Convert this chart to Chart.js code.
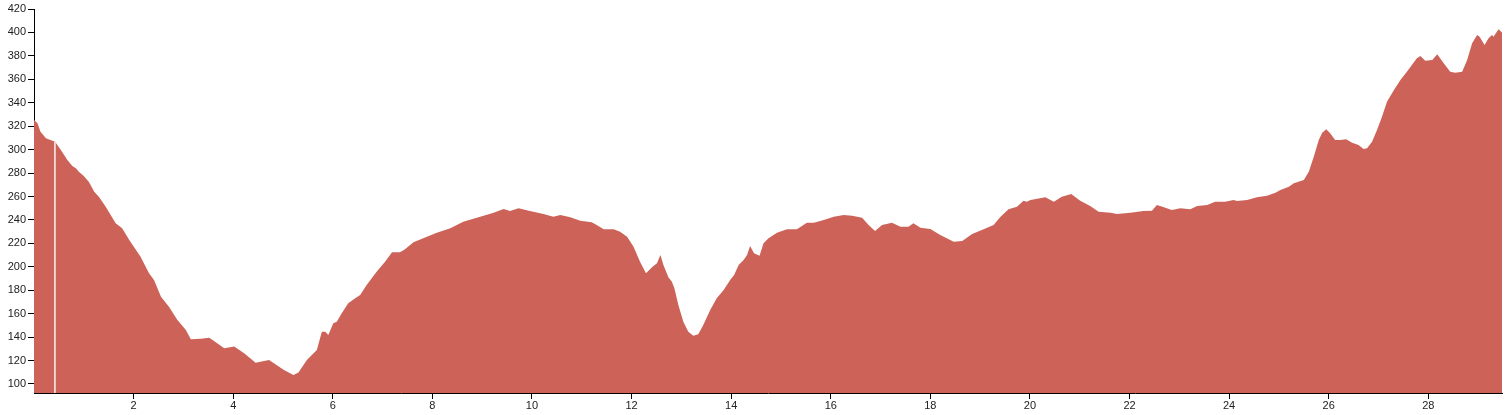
<!DOCTYPE html>
<html>
<head>
<meta charset="utf-8">
<script src="https://cdn.jsdelivr.net/npm/chart.js@4/dist/chart.umd.min.js"></script>
<style>
  html, body { margin: 0; padding: 0; background: #ffffff; }
  #wrap { width: 1505px; height: 415px; }
</style>
</head>
<body>
<div id="wrap"><canvas id="c" width="1505" height="415"></canvas></div>
<script>
// Distance along the route (km)
const distanceKm = [
  0.00, 0.07, 0.13, 0.24, 0.37, 0.42, 0.54, 0.67, 0.77, 0.84, 0.90, 1.00, 1.10, 1.21, 1.31, 1.44,
  1.64, 1.77, 1.91, 2.14, 2.31, 2.41, 2.55, 2.71, 2.88, 3.05, 3.15, 3.35, 3.52, 3.65, 3.82, 4.02,
  4.22, 4.45, 4.72, 5.02, 5.21, 5.31, 5.48, 5.68, 5.78, 5.85, 5.91, 6.01, 6.08, 6.18, 6.31, 6.45,
  6.55, 6.68, 6.88, 7.05, 7.19, 7.35, 7.45, 7.62, 7.89, 8.09, 8.36, 8.62, 8.96, 9.23, 9.43, 9.56,
  9.73, 9.96, 10.23, 10.43, 10.57, 10.77, 10.97, 11.20, 11.30, 11.44, 11.64, 11.77, 11.91, 12.04,
  12.17, 12.29, 12.41, 12.51, 12.58, 12.64, 12.74, 12.81, 12.86, 12.94, 13.04, 13.14, 13.24, 13.34,
  13.44, 13.58, 13.71, 13.85, 13.98, 14.06, 14.15, 14.25, 14.32, 14.38, 14.46, 14.57, 14.65, 14.75,
  14.92, 15.12, 15.32, 15.52, 15.66, 15.86, 16.06, 16.26, 16.43, 16.63, 16.76, 16.89, 17.03, 17.23,
  17.40, 17.56, 17.66, 17.80, 18.00, 18.20, 18.47, 18.64, 18.84, 19.07, 19.27, 19.41, 19.57, 19.74,
  19.87, 19.94, 20.01, 20.31, 20.48, 20.64, 20.83, 21.01, 21.21, 21.38, 21.62, 21.75, 22.02, 22.28,
  22.45, 22.55, 22.69, 22.85, 23.02, 23.22, 23.36, 23.56, 23.72, 23.92, 24.09, 24.16, 24.36, 24.56,
  24.76, 24.93, 25.03, 25.20, 25.30, 25.50, 25.60, 25.70, 25.80, 25.87, 25.95, 26.03, 26.13, 26.23,
  26.35, 26.47, 26.60, 26.70, 26.77, 26.87, 26.97, 27.07, 27.17, 27.31, 27.44, 27.57, 27.67, 27.77,
  27.84, 27.94, 28.08, 28.18, 28.31, 28.44, 28.54, 28.68, 28.78, 28.88, 28.98, 29.03, 29.13, 29.21,
  29.28, 29.31, 29.41, 29.48
];

// Elevation (m)
const elevationM = [
  325.3, 322.5, 315.3, 309.7, 307.6, 307.0, 299.7, 291.2, 286.0, 284.0, 281.2, 277.5, 272.6, 264.1, 259.3, 251.3,
  237.1, 232.9, 223.0, 208.6, 194.5, 188.8, 174.5, 166.0, 154.6, 146.1, 138.1, 138.7, 139.5, 135.6, 130.5, 131.9,
  126.2, 118.2, 120.5, 112.0, 107.7, 109.7, 120.5, 129.0, 144.6, 144.6, 141.8, 151.8, 153.2, 160.3, 168.9, 173.1,
  176.0, 184.5, 195.8, 204.4, 212.4, 212.4, 214.9, 220.9, 225.7, 229.1, 232.9, 238.5, 242.8, 246.2, 249.3, 247.6,
  249.9, 247.6, 245.1, 242.8, 244.2, 242.2, 239.4, 238.0, 235.7, 232.0, 232.0, 230.0, 225.7, 217.2,
  204.4, 194.5, 199.6, 203.0, 210.1, 201.6, 191.1, 187.3, 181.7, 167.4, 153.2, 144.6, 141.2, 142.4,
  150.4, 163.2, 173.1, 180.2, 188.8, 193.0, 201.6, 205.8, 210.1, 217.8, 211.5, 209.5, 220.0, 224.3,
  229.0, 232.0, 232.0, 237.6, 237.6, 239.9, 242.8, 244.2, 243.6, 241.9, 235.7, 230.6, 235.7, 237.6,
  234.2, 234.2, 237.1, 233.4, 232.3, 227.2, 221.4, 222.0, 228.0, 232.0, 235.7, 242.8, 249.1, 251.3,
  256.4, 255.6, 257.0, 259.3, 255.6, 259.8, 262.1, 256.4, 251.9, 247.0, 246.2, 245.1, 246.2, 247.6,
  247.9, 252.8, 250.8, 248.5, 249.9, 249.1, 251.9, 252.8, 255.6, 255.6, 257.0, 256.2, 257.0, 259.3,
  260.7, 263.2, 265.6, 268.4, 271.3, 274.1, 281.2, 294.0, 308.2, 314.4, 317.3, 313.9, 308.2, 308.2,
  308.8, 305.9, 304.0, 300.5, 301.1, 306.8, 316.7, 328.1, 340.9, 350.9, 359.4, 366.5, 372.2, 377.9,
  379.9, 375.9, 376.5, 381.3, 373.7, 366.5, 365.7, 366.5, 376.5, 390.7, 397.8, 396.4, 389.3, 395.0,
  397.8, 396.4, 402.7, 399.9
];

// Axis ticks
const xTicks = [2, 4, 6, 8, 10, 12, 14, 16, 18, 20, 22, 24, 26, 28];
const yTicks = [100, 120, 140, 160, 180, 200, 220, 240, 260, 280, 300, 320, 340, 360, 380, 400, 420];

// Position marker (km, elevation)
const markerKm = [0.42, 0.42];
const markerElev = [92.3, 307.0];

const yMin = 92.3;
const yMax = 420;
const xMax = distanceKm[distanceKm.length - 1];

const profile = distanceKm.map((d, i) => ({ x: d, y: elevationM[i] }));
const marker = markerKm.map((d, i) => ({ x: d, y: markerElev[i] }));

const tickFont = { family: '"Liberation Sans", Arial, sans-serif', size: 11 };

new Chart(document.getElementById('c'), {
  type: 'line',
  data: {
    datasets: [
      {
        label: 'marker',
        data: marker,
        borderColor: '#fbf4f3',
        borderWidth: 1.5,
        pointRadius: 0,
        fill: false,
        order: 0
      },
      {
        label: 'elevation',
        data: profile,
        borderWidth: 0,
        borderColor: 'rgba(0,0,0,0)',
        backgroundColor: '#cd6358',
        pointRadius: 0,
        fill: 'start',
        tension: 0,
        order: 1
      }
    ]
  },
  options: {
    responsive: false,
    animation: false,
    events: [],
    layout: { padding: { top: 9, right: 3, left: 0, bottom: 0 } },
    plugins: { legend: { display: false }, tooltip: { enabled: false } },
    scales: {
      x: {
        type: 'linear',
        min: 0,
        max: xMax,
        afterBuildTicks: (s) => { s.ticks = xTicks.map(v => ({ value: v })); },
        afterFit: (s) => { s.height = 22; },
        grid: { drawOnChartArea: false, drawTicks: true, tickLength: 6, color: '#000', lineWidth: 1 },
        border: { display: true, color: '#000', width: 1 },
        ticks: { font: tickFont, color: '#222', padding: 0, maxRotation: 0, autoSkip: false }
      },
      y: {
        type: 'linear',
        min: yMin,
        max: yMax,
        afterBuildTicks: (s) => { s.ticks = yTicks.map(v => ({ value: v })); },
        afterFit: (s) => { s.width = 34; },
        grid: { drawOnChartArea: false, drawTicks: true, tickLength: 6, color: '#000', lineWidth: 1 },
        border: { display: true, color: '#000', width: 1 },
        ticks: { font: tickFont, color: '#222', padding: 2, autoSkip: false }
      }
    }
  }
});
</script>
</body>
</html>
